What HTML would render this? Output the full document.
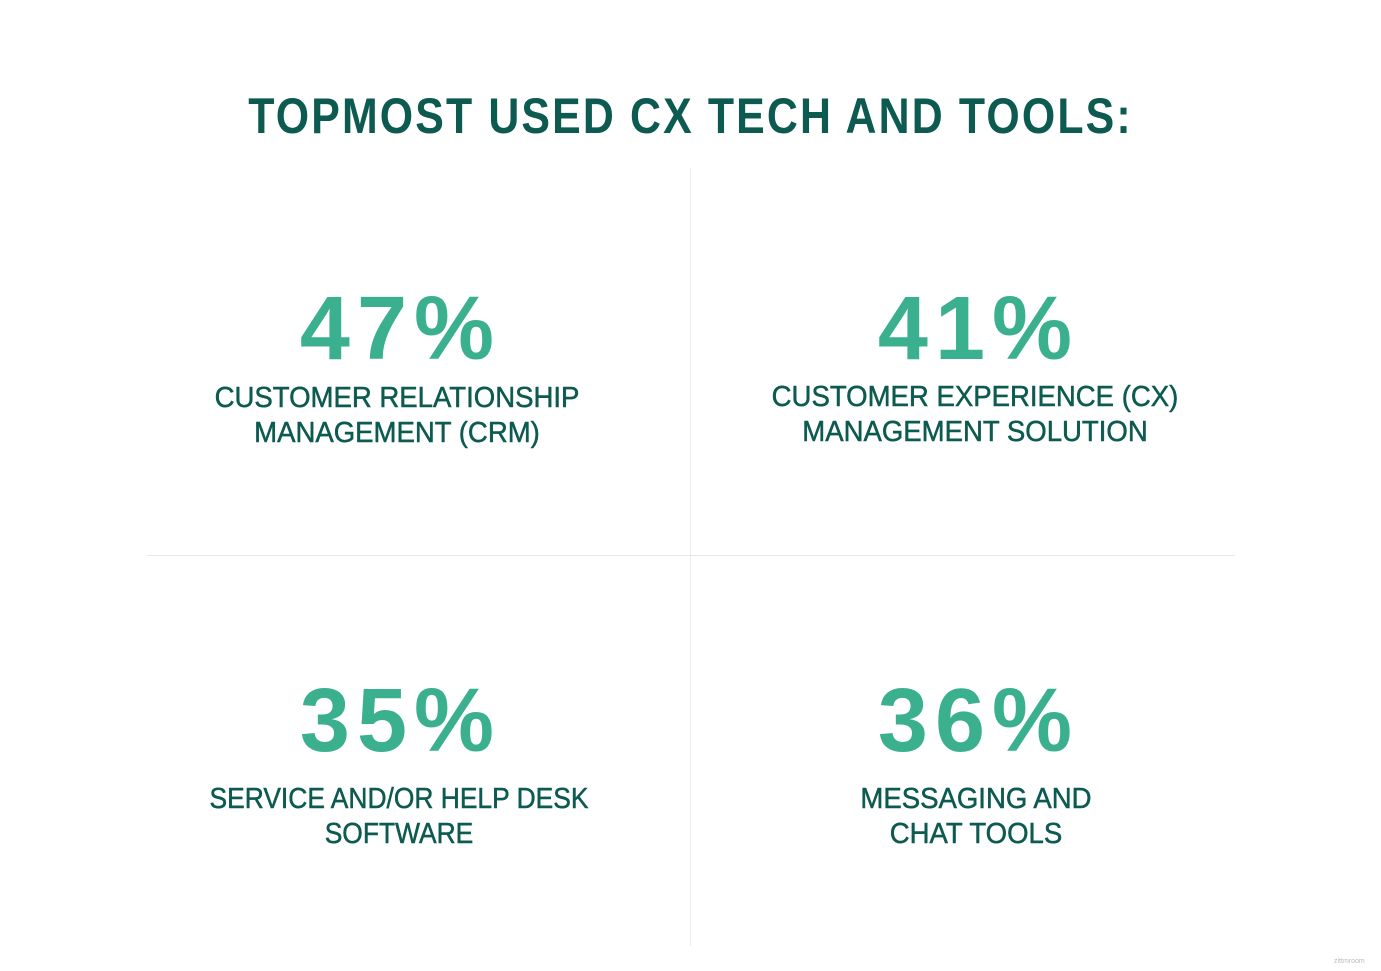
<!DOCTYPE html>
<html><head><meta charset="utf-8"><style>
body{margin:0;width:1381px;height:971px;background:#fff;position:relative;overflow:hidden;font-family:"Liberation Sans",sans-serif}
.t{position:absolute;left:0;width:1381px;text-align:center;font-weight:bold;font-size:50px;line-height:60px;top:86px;color:#0c5a50;letter-spacing:2.5px;transform:scaleX(0.857);}
.n{position:absolute;width:500px;text-align:center;font-weight:bold;font-size:90px;line-height:90px;color:#3bb08f;letter-spacing:7px;text-indent:7px}
.l{position:absolute;width:600px;text-align:center;font-size:29px;line-height:35px;color:#0c5a50;transform:scaleX(0.95);-webkit-text-stroke:0.5px #0c5a50}
.v{position:absolute;left:690px;top:168px;width:1px;height:778px;background:#ececec}
.h{position:absolute;left:147px;top:555px;width:1088px;height:1px;background:#e6e6e6}
.w{position:absolute;left:1334px;top:958px;font-size:7px;color:#bbb}
</style></head><body>
<div class="t">TOPMOST USED CX TECH AND TOOLS:</div>
<div class="v"></div><div class="h"></div>
<div class="n" style="left:147px;top:284px">47%</div>
<div class="l" style="left:97px;top:381px">CUSTOMER RELATIONSHIP<br>MANAGEMENT (CRM)</div>
<div class="n" style="left:725px;top:284px">41%</div>
<div class="l" style="left:675px;top:380px">CUSTOMER EXPERIENCE (CX)<br>MANAGEMENT SOLUTION</div>
<div class="n" style="left:147px;top:676px">35%</div>
<div class="l" style="left:99px;top:782px;transform:scaleX(0.91)">SERVICE AND/OR HELP DESK<br>SOFTWARE</div>
<div class="n" style="left:725px;top:676px">36%</div>
<div class="l" style="left:676px;top:782px">MESSAGING AND<br>CHAT TOOLS</div>
<div class="w">zittmroom</div>
</body></html>
